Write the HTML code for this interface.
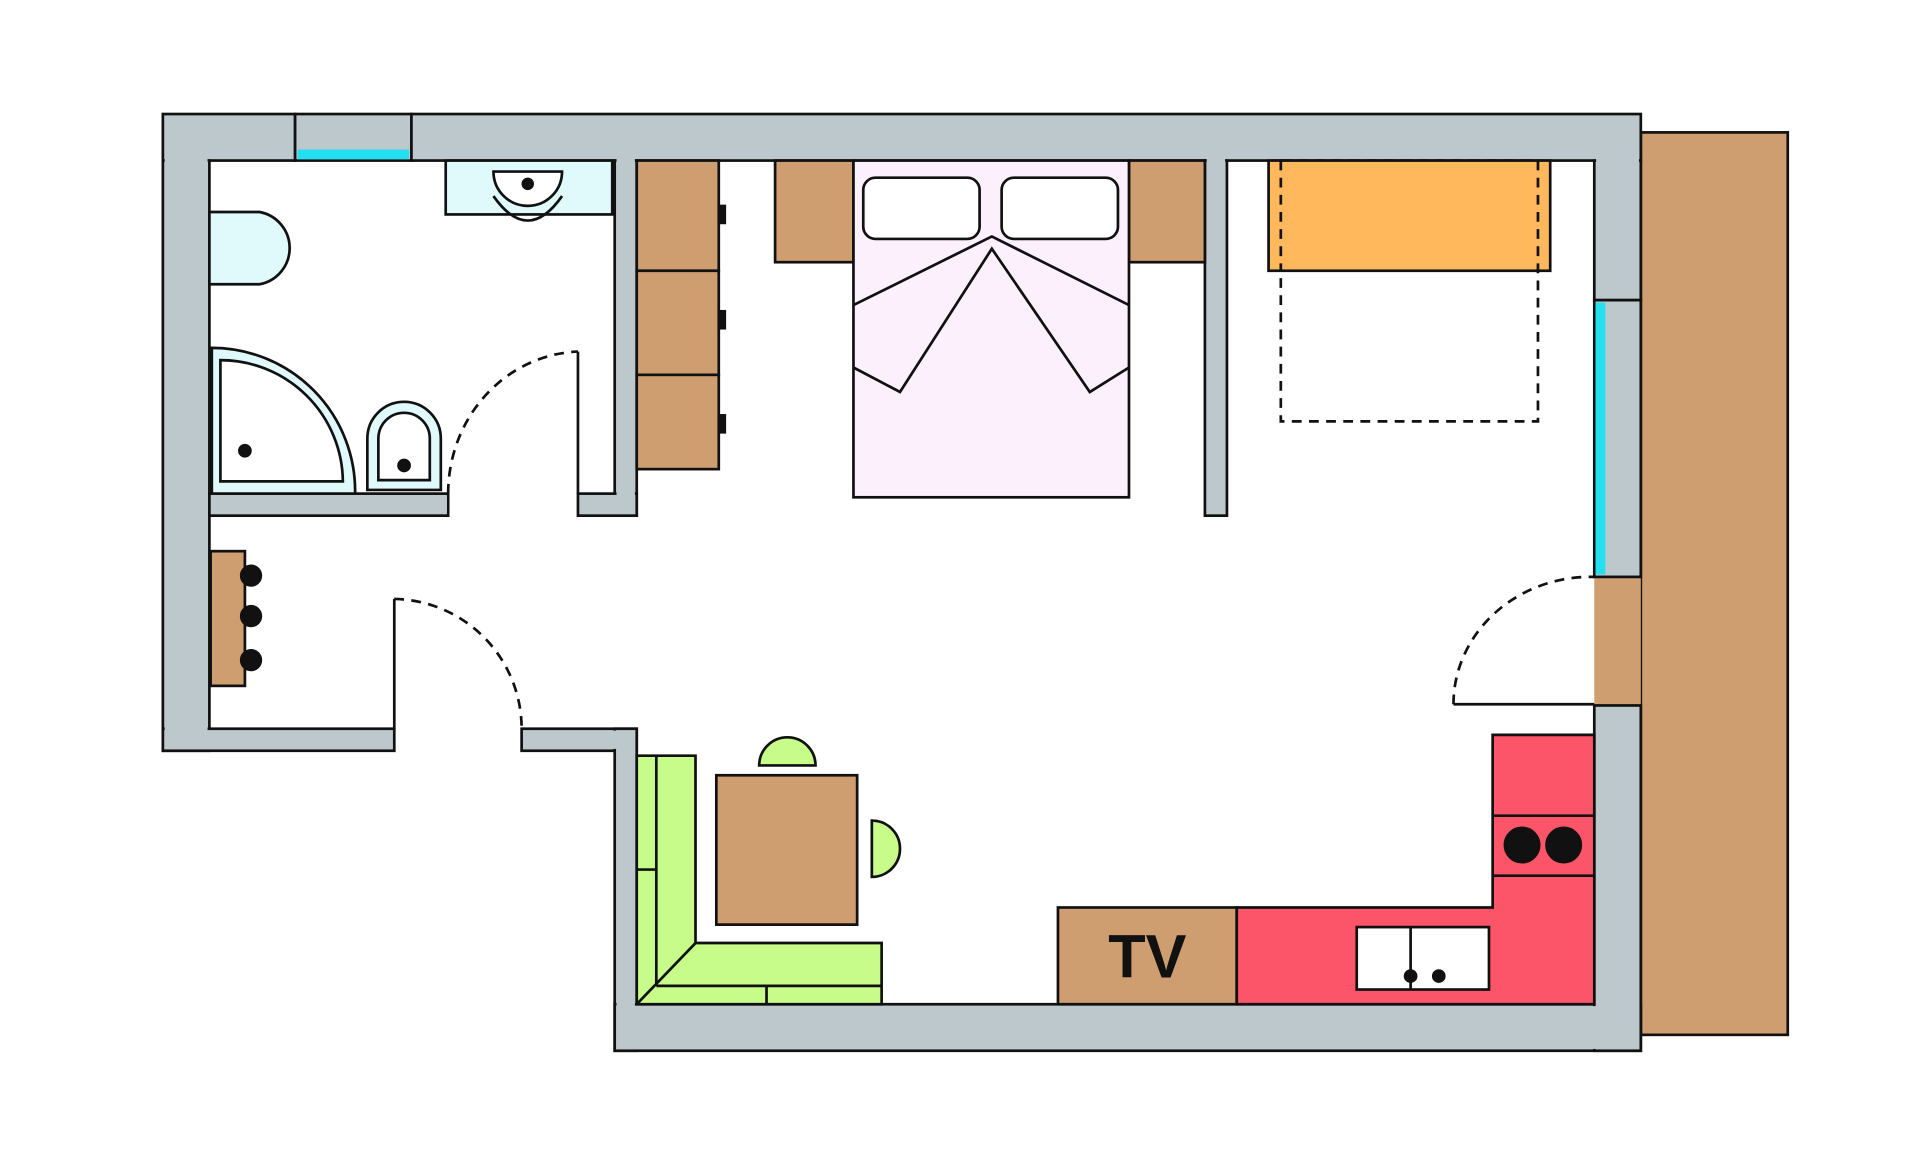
<!DOCTYPE html>
<html><head><meta charset="utf-8"><style>
html,body{margin:0;padding:0;background:#fff;}
svg{display:block;}
</style></head><body>
<svg width="1920" height="1155" viewBox="0 0 1568 943" xmlns="http://www.w3.org/2000/svg">
<g stroke="#111" stroke-width="2.2" fill="none">
<!-- balcony -->
<rect x="1340" y="108" width="120" height="737" fill="#cf9e70"/>
<rect x="1302" y="471" width="38" height="105" fill="#cf9e70" stroke="none"/>
<!-- walls -->
<g fill="#bcc8cc">
<rect x="133" y="93" width="108" height="38"/>
<rect x="241" y="93" width="95" height="38"/>
<rect x="336" y="93" width="1004" height="38"/>
<rect x="133" y="131" width="38" height="482"/>
<rect x="133" y="595" width="189" height="18"/>
<rect x="171" y="403" width="195" height="18"/>
<rect x="502" y="131" width="18" height="290"/>
<rect x="472" y="403" width="48" height="18"/>
<rect x="984" y="131" width="18" height="290"/>
<rect x="426" y="595" width="94" height="18"/>
<rect x="502" y="595" width="18" height="263"/>
<rect x="502" y="820" width="838" height="38"/>
<rect x="1302" y="131" width="38" height="114"/>
<rect x="1302" y="245" width="38" height="226"/>
<rect x="1302" y="576" width="38" height="282"/>
</g>
<!-- cover internal seams -->
<g stroke="none" fill="#bcc8cc">
<rect x="134.5" y="94.5" width="35" height="517"/>
<rect x="134.5" y="596.5" width="186" height="15"/>
<rect x="134.5" y="94.5" width="105" height="35"/>
<rect x="337.5" y="94.5" width="1001" height="35"/>
<rect x="1303.5" y="94.5" width="35" height="149"/>
<rect x="503.5" y="596.5" width="15" height="260"/>
<rect x="427.5" y="596.5" width="91" height="15"/>
<rect x="503.5" y="821.5" width="835" height="35"/>
<rect x="1303.5" y="577.5" width="35" height="279"/>
<rect x="503.5" y="129" width="15" height="290"/>
<rect x="985.5" y="129" width="15" height="290"/>
<rect x="173" y="404.5" width="192" height="15"/>
<rect x="473.5" y="404.5" width="45" height="15"/>
</g>
<!-- windows cyan -->
<rect x="243" y="122" width="91" height="8" fill="#22e0f0" stroke="none"/>
<rect x="1303" y="247" width="8" height="222" fill="#22e0f0" stroke="none"/>
<!-- doors -->
<line x1="472" y1="287" x2="472" y2="403"/>
<path d="M366,403 A110,116 0 0 1 472,287" stroke-dasharray="8,6"/>
<line x1="322" y1="489" x2="322" y2="595"/>
<path d="M322,489 A106,106 0 0 1 426,595" stroke-dasharray="8,6"/>
<line x1="1187" y1="575" x2="1302" y2="575"/>
<path d="M1187,575 A112,104 0 0 1 1302,471" stroke-dasharray="8,6"/>
<!-- bathroom -->
<rect x="364" y="131" width="136" height="44" fill="#e0fafc"/>
<path d="M403,140 A28,28 0 0 0 459,140 Z" fill="#fff"/>
<path d="M403,160 Q431,200 459,160" />
<circle cx="431" cy="150" r="4" fill="#111"/>
<path d="M171,173 L212,173 A30,30 0 0 1 212,232 L171,232 Z" fill="#e0fafc"/>
<path d="M173,284 A117,117 0 0 1 290,403 L173,403 Z" fill="#e0fafc"/>
<path d="M180,294 A100,100 0 0 1 280,393 L180,393 Z" fill="#fff"/>
<circle cx="200" cy="368" r="4.5" fill="#111"/>
<path d="M300,400 L300,358 A30,30 0 0 1 360,358 L360,400 Z" fill="#e0fafc"/>
<path d="M309,392 L309,358 A21,21 0 0 1 351,358 L351,392 Z" fill="#fff"/>
<circle cx="330" cy="380" r="4.5" fill="#111"/>
<!-- hall rack -->
<rect x="172" y="450" width="28" height="110" fill="#cf9e70"/>
<circle cx="205" cy="470" r="8" fill="#111"/>
<circle cx="205" cy="503" r="8" fill="#111"/>
<circle cx="205" cy="539" r="8" fill="#111"/>
<!-- wardrobe -->
<g fill="#cf9e70">
<rect x="520" y="131" width="67" height="90"/>
<rect x="520" y="221" width="67" height="85"/>
<rect x="520" y="306" width="67" height="77"/>
<rect x="633" y="131" width="64" height="83"/>
<rect x="922" y="131" width="62" height="83"/>
</g>
<g fill="#111" stroke="none">
<rect x="587" y="167" width="6" height="16"/>
<rect x="587" y="253" width="6" height="16"/>
<rect x="587" y="338" width="6" height="16"/>
</g>
<!-- bed -->
<rect x="697" y="131" width="225" height="275" fill="#fcf0fc"/>
<rect x="705" y="145" width="95" height="50" rx="10" fill="#fff"/>
<rect x="818" y="145" width="95" height="50" rx="10" fill="#fff"/>
<polyline points="697,249 810,193 922,249"/>
<polyline points="697,300 735,320 810,203 890,320 922,300"/>
<!-- desk -->
<rect x="1046" y="131" width="210" height="213" stroke-dasharray="8,6"/>
<rect x="1036" y="131" width="230" height="90" fill="#ffb85c"/>
<line x1="1046" y1="131" x2="1046" y2="221" stroke-dasharray="8,6"/>
<line x1="1256" y1="131" x2="1256" y2="221" stroke-dasharray="8,6"/>
<!-- dining -->
<path d="M620,625 A23,23 0 0 1 666,625 Z" fill="#c8fc8a"/>
<path d="M712,670 A23,23 0 0 1 712,716 Z" fill="#c8fc8a"/>
<rect x="585" y="633" width="115" height="122" fill="#cf9e70"/>
<!-- sofa -->
<path d="M520,617 L568,617 L568,770 L720,770 L720,820 L520,820 Z" fill="#c8fc8a"/>
<line x1="536" y1="617" x2="536" y2="805"/>
<line x1="520" y1="710" x2="536" y2="710"/>
<line x1="536" y1="805" x2="720" y2="805"/>
<line x1="520" y1="820" x2="568" y2="770"/>
<line x1="626" y1="805" x2="626" y2="820"/>
<!-- TV -->
<rect x="864" y="741" width="146" height="79" fill="#cf9e70"/>
<!-- kitchen -->
<path d="M1010,741 L1219,741 L1219,600 L1302,600 L1302,820 L1010,820 Z" fill="#fc5468"/>
<line x1="1219" y1="666" x2="1302" y2="666"/>
<line x1="1219" y1="715" x2="1302" y2="715"/>
<circle cx="1243" cy="690" r="14" fill="#111"/>
<circle cx="1277" cy="690" r="14" fill="#111"/>
<rect x="1108" y="757" width="108" height="51" fill="#fff"/>
<line x1="1152" y1="757" x2="1152" y2="808"/>
<circle cx="1152" cy="797" r="4.5" fill="#111"/>
<circle cx="1175" cy="797" r="4.5" fill="#111"/>
</g>
<text x="937" y="798" text-anchor="middle" font-family="Liberation Sans, sans-serif" font-weight="bold" font-size="50" fill="#111">TV</text>
</svg>
</body></html>
